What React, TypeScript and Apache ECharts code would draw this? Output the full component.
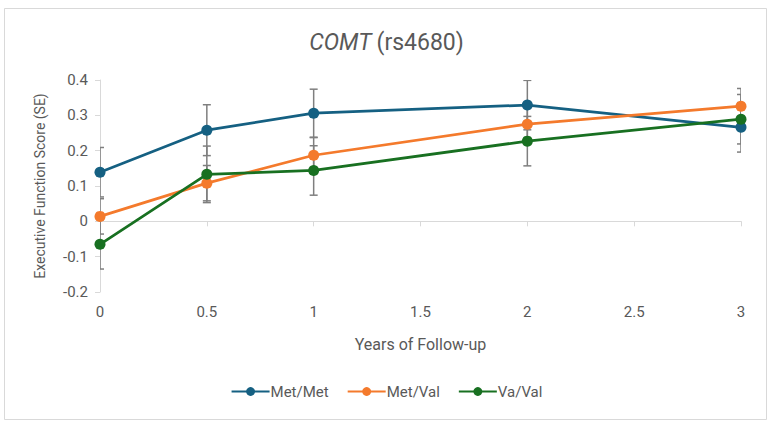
import React, { useEffect, useRef } from "react";
import * as echarts from "echarts";

// Follow-up time points (years)
const years = [0, 0.5, 1, 2, 3];

// Mean executive function score per genotype group
const metMet = [0.139, 0.258, 0.306, 0.329, 0.266];
const metVal = [0.014, 0.108, 0.187, 0.275, 0.326];
const vaVal = [-0.065, 0.133, 0.144, 0.227, 0.289];

// Standard errors for each mean
const metMetSE = [0.07, 0.072, 0.068, 0.07, 0.07];
const metValSE = [0.05, 0.05, 0.05, 0.05, 0.05];
const vaValSE = [0.07, 0.08, 0.07, 0.07, 0.07];

const seriesNames = ["Met/Met", "Met/Val", "Va/Val"];
const colors = ["#156082", "#F47A2C", "#187021"];

const FONT = "Roboto, 'Noto Sans', sans-serif";
const GREY = "#595959";

function errorData(means: number[], se: number[]) {
  return years.map((x, i) => [x, means[i] - se[i], means[i] + se[i]]);
}

function errorSeries(name: string, means: number[], se: number[]) {
  return {
    type: "custom",
    name: name + " SE",
    clip: true,
    z: 1,
    data: errorData(means, se),
    encode: { x: 0, y: [1, 2] },
    renderItem: (params: any, api: any) => {
      const x = api.value(0);
      const lo = api.coord([x, api.value(1)]);
      const hi = api.coord([x, api.value(2)]);
      const w = 4;
      const style = { stroke: "#7f7f7f", lineWidth: 1.5 };
      return {
        type: "group",
        children: [
          { type: "line", shape: { x1: hi[0], y1: hi[1], x2: lo[0], y2: lo[1] }, style },
          { type: "line", shape: { x1: hi[0] - w, y1: hi[1], x2: hi[0] + w, y2: hi[1] }, style },
          { type: "line", shape: { x1: lo[0] - w, y1: lo[1], x2: lo[0] + w, y2: lo[1] }, style },
        ],
      };
    },
  };
}

function lineSeries(name: string, means: number[], color: string) {
  return {
    type: "line",
    name,
    z: 3,
    data: years.map((x, i) => [x, means[i]]),
    symbol: "circle",
    symbolSize: 11,
    showSymbol: true,
    lineStyle: { color, width: 2.75 },
    itemStyle: { color },
  };
}

export default function App() {
  const ref = useRef<HTMLDivElement>(null);

  useEffect(() => {
    if (!ref.current) return;
    const chart = echarts.init(ref.current, null, { renderer: "svg" });
    chart.setOption({
      animation: false,
      backgroundColor: "#ffffff",
      color: colors,
      graphic: [
        {
          type: "rect",
          shape: { x: 4.5, y: 8.5, width: 762, height: 411 },
          style: { fill: "none", stroke: "#d9d9d9", lineWidth: 1 },
          silent: true,
          z: -1,
        },
      ],
      title: {
        text: "{i|COMT} {n|(rs4680)}",
        left: "center",
        top: 26,
        textStyle: {
          rich: {
            i: { fontFamily: FONT, fontSize: 23, fontStyle: "italic", fontWeight: "normal", color: GREY },
            n: { fontFamily: FONT, fontSize: 23, fontWeight: "normal", color: GREY },
          },
        },
      },
      grid: { left: 100, right: 32, top: 80, bottom: 135 },
      legend: {
        data: seriesNames,
        bottom: 23,
        left: "center",
        itemWidth: 38,
        itemHeight: 11,
        itemGap: 18,
        textStyle: { fontFamily: FONT, fontSize: 15, color: GREY, padding: [0, 0, 0, -4] },
      },
      xAxis: {
        type: "value",
        min: 0,
        max: 3,
        interval: 0.5,
        name: "Years of Follow-up",
        nameLocation: "middle",
        nameGap: 44,
        nameTextStyle: { fontFamily: FONT, fontSize: 16, color: GREY },
        axisLine: { lineStyle: { color: "#d9d9d9", width: 1 } },
        axisTick: { show: true, length: 5, lineStyle: { color: "#d9d9d9" } },
        axisLabel: { fontFamily: FONT, fontSize: 15, color: GREY, margin: 12 },
        splitLine: { show: false },
      },
      yAxis: {
        type: "value",
        min: -0.2,
        max: 0.4,
        interval: 0.1,
        name: "Executive Function Score (SE)",
        nameLocation: "middle",
        nameGap: 53,
        nameTextStyle: { fontFamily: FONT, fontSize: 14, color: GREY },
        axisLine: { show: true, lineStyle: { color: "#d9d9d9", width: 1 } },
        axisTick: { show: true, length: 5, lineStyle: { color: "#d9d9d9" } },
        axisLabel: {
          fontFamily: FONT,
          fontSize: 15,
          color: GREY,
          margin: 12,
          formatter: (v: number) => String(Math.round(v * 10) / 10),
        },
        splitLine: { show: false },
      },
      series: [
        errorSeries(seriesNames[0], metMet, metMetSE),
        errorSeries(seriesNames[1], metVal, metValSE),
        errorSeries(seriesNames[2], vaVal, vaValSE),
        lineSeries(seriesNames[0], metMet, colors[0]),
        lineSeries(seriesNames[1], metVal, colors[1]),
        lineSeries(seriesNames[2], vaVal, colors[2]),
      ],
    });
    return () => chart.dispose();
  }, []);

  return (
    <div
      ref={ref}
      style={{ position: "absolute", left: 0, top: 0, width: 773, height: 427 }}
    />
  );
}
